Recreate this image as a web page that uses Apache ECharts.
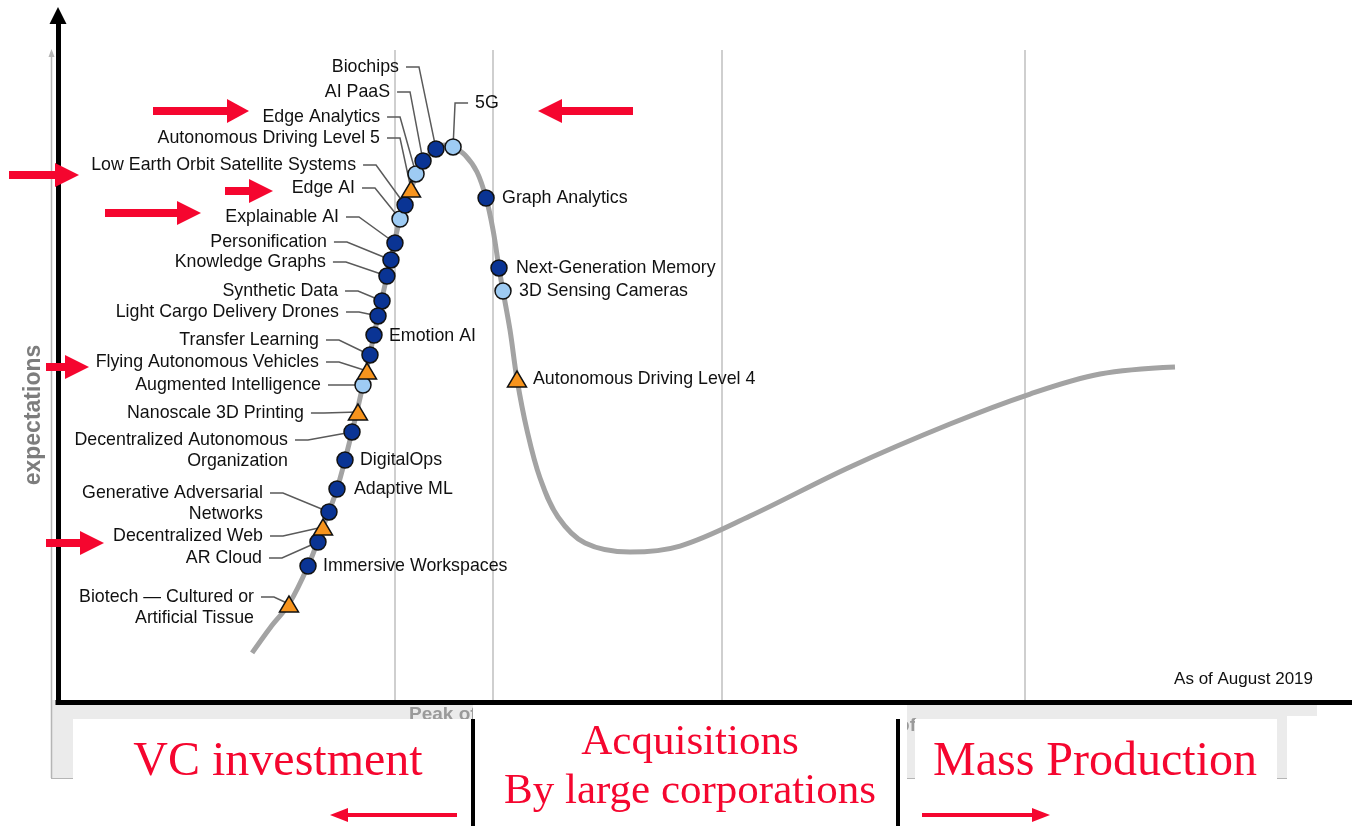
<!DOCTYPE html>
<html><head><meta charset="utf-8">
<script src="https://cdn.jsdelivr.net/npm/echarts@6/dist/echarts.min.js"></script>
<style>html,body{margin:0;padding:0;background:#fff}#c{width:1352px;height:826px}</style>
</head><body><div id="c"></div>
<script>
// ---------------- DATA ----------------
const techNames = [
  'Biochips', 'AI PaaS', 'Edge Analytics', 'Autonomous Driving Level 5',
  'Low Earth Orbit Satellite Systems', 'Edge AI', 'Explainable AI', 'Personification',
  'Knowledge Graphs', 'Synthetic Data', 'Light Cargo Delivery Drones', 'Emotion AI',
  'Transfer Learning', 'Flying Autonomous Vehicles', 'Augmented Intelligence', 'Nanoscale 3D Printing',
  'Decentralized Autonomous\nOrganization', 'DigitalOps', 'Adaptive ML', 'Generative Adversarial\nNetworks',
  'Decentralized Web', 'AR Cloud', 'Immersive Workspaces', 'Biotech \u2014 Cultured or\nArtificial Tissue',
  '5G', 'Graph Analytics', 'Next-Generation Memory', '3D Sensing Cameras', 'Autonomous Driving Level 4'
];
const techTime = [
  29.21, 28.21, 27.67, 27.28,
  26.82, 26.43, 26.04, 25.73,
  25.42, 25.04, 24.73, 24.42,
  24.11, 23.88, 23.57, 23.18,
  22.72, 22.18, 21.56, 20.94,
  20.48, 20.09, 19.32, 17.85,
  30.53, 33.08, 34.08, 34.39, 35.47
];
const techExpect = [
  81.09, 79.33, 77.42, 75.22,
  72.87, 70.82, 67.30, 64.81,
  62.46, 58.80, 56.60, 53.81,
  50.88, 48.53, 46.48, 42.52,
  39.59, 35.48, 31.23, 27.86,
  25.66, 23.46, 19.94, 14.37,
  81.38, 73.90, 63.64, 60.26, 47.36
];
// years to plateau: '2-5' (light blue), '5-10' (dark blue), '>10' (orange triangle)
const techHorizon = [
  '5-10', '5-10', '2-5', '>10',
  '5-10', '2-5', '5-10', '5-10',
  '5-10', '5-10', '5-10', '5-10',
  '5-10', '>10', '2-5', '>10',
  '5-10', '5-10', '5-10', '5-10',
  '>10', '5-10', '5-10', '>10',
  '2-5', '5-10', '5-10', '2-5', '>10'
];
const curveTime = [15.0, 16.4, 17.85, 19.32, 20.48, 21.56, 22.72, 23.57, 24.42, 25.42, 26.43, 27.28,
  28.21, 29.21, 29.91, 30.53, 31.45, 32.38, 33.08, 33.62, 34.08, 34.39, 34.93, 35.47, 36.24, 37.25,
  38.64, 40.73, 44.20, 48.07, 53.48, 61.21, 68.93, 75.12, 80.53, 86.32];
const curveExpect = [7.2, 10.9, 14.37, 19.94, 25.66, 31.23, 39.59, 46.48, 53.81, 62.46, 70.82, 75.22,
  79.33, 81.09, 81.67, 81.38, 80.21, 77.71, 73.90, 69.21, 63.64, 60.26, 54.55, 47.36, 39.88, 32.84,
  27.13, 23.31, 21.99, 22.87, 27.27, 34.46, 40.76, 45.16, 48.09, 49.12];
const phaseBoundaries = [26.04, 33.62, 51.31, 74.73];
const phaseTop = 95.6;
const yAxisTitle = 'expectations';
const asOfText = 'As of August 2019';
const phaseNames = ['Innovation\nTrigger', 'Peak of\nInflated\nExpectations', 'Slope of', 'Plateau of\nProductivity'];
const noteVC = 'VC investment';
const noteAcq = ['Acquisitions', 'By large corporations'];
const noteMass = 'Mass Production';

// ---------------- LAYOUT (positions / styles) ----------------
// [dx, dy, align, leader] pixel offset of label anchor relative to its point
const labelLayout = [
  [-37, -82, 'right', 1], [-33, -69, 'right', 1], [-36, -57, 'right', 1], [-31, -51, 'right', 1],
  [-49, -40, 'right', 1], [-45, -31, 'right', 1], [-56, -26, 'right', 1], [-64, -18, 'right', 1],
  [-61, -14, 'right', 1], [-44, -10, 'right', 1], [-39, -4, 'right', 1], [15, 1, 'left', 0],
  [-51, -15, 'right', 1], [-48, -9, 'right', 1], [-42, 0, 'right', 1], [-54, 1, 'right', 1],
  [-64, 8, 'right', 1], [15, 0, 'left', 0], [17, 0, 'left', 0], [-66, -19, 'right', 1],
  [-60, 9, 'right', 1], [-56, 16, 'right', 1], [15, 0, 'left', 0], [-35, -7, 'right', 1],
  [22, -44, 'left', 1], [16, 0, 'left', 0], [17, 0, 'left', 0], [16, 0, 'left', 0], [16, 0, 'left', 0]
];
const horizonStyle = {
  '2-5': {color: '#9ecbf3', symbol: 'circle', size: 16},
  '5-10': {color: '#0a3494', symbol: 'circle', size: 16},
  '>10': {color: '#f7941d', symbol: 'triangle', size: [19, 16]}
};
const RED = '#f5062f';
const SANS = '"Liberation Sans", Arial, sans-serif';
const SERIF = '"Liberation Serif", "Times New Roman", serif';
// [bodyStart, headStart, tip, centerY]
const redArrows = [
  [153, 227, 249, 111], [9, 55, 79, 175], [225, 249, 273, 191], [105, 177, 201, 213],
  [46, 65, 89, 367], [46, 80, 104, 543], [633, 562, 538, 111]
];

// ---------------- BUILD ----------------
function bigArrow(a) {
  const [x0, xh, tip, cy] = a;
  const bx = Math.min(x0, xh), bw = Math.abs(xh - x0);
  return [
    {type: 'rect', z: 100, shape: {x: bx, y: cy - 4, width: bw, height: 8}, style: {fill: RED}},
    {type: 'polygon', z: 100, shape: {points: [[xh, cy - 12], [tip, cy], [xh, cy + 12]]}, style: {fill: RED}}
  ];
}
function thinArrow(x0, xh, tip, cy) {
  const bx = Math.min(x0, xh), bw = Math.abs(xh - x0);
  return [
    {type: 'rect', z: 100, shape: {x: bx, y: cy - 2, width: bw, height: 4}, style: {fill: RED}},
    {type: 'polygon', z: 100, shape: {points: [[xh, cy - 7], [tip, cy], [xh, cy + 7]]}, style: {fill: RED}}
  ];
}

const graphics = [];
// backdrop band from the original figure
graphics.push({type: 'rect', z: 1, shape: {x: 51, y: 700, width: 1236, height: 78}, style: {fill: '#ebebeb'}});
graphics.push({type: 'rect', z: 1, shape: {x: 1287, y: 700, width: 30, height: 16}, style: {fill: '#ebebeb'}});
graphics.push({type: 'line', z: 1, shape: {x1: 51.5, y1: 52, x2: 51.5, y2: 778}, style: {stroke: '#b5b5b5', lineWidth: 1.5}});
graphics.push({type: 'polygon', z: 1, shape: {points: [[48.5, 57], [51.5, 49], [54.5, 57]]}, style: {fill: '#b5b5b5'}});
graphics.push({type: 'line', z: 1, shape: {x1: 51, y1: 778.5, x2: 1287, y2: 778.5}, style: {stroke: '#b5b5b5', lineWidth: 1}});
const phaseTextStyle = {fill: '#9a9a9a', fontSize: 19, fontWeight: 'bold', fontFamily: SANS, verticalAlign: 'top', lineHeight: 22};
graphics.push({type: 'text', z: 1, style: Object.assign({text: phaseNames[0], x: 170, y: 716, align: 'left'}, phaseTextStyle)});
graphics.push({type: 'text', z: 1, style: Object.assign({text: phaseNames[1], x: 409, y: 704, align: 'left'}, phaseTextStyle)});
graphics.push({type: 'text', z: 1, style: Object.assign({text: phaseNames[2], x: 916, y: 715, align: 'right'}, phaseTextStyle)});
graphics.push({type: 'text', z: 1, style: Object.assign({text: phaseNames[3], x: 1122, y: 716, align: 'left'}, phaseTextStyle)});
// white overlay boxes
graphics.push({type: 'rect', z: 2, shape: {x: 73, y: 719, width: 400, height: 107}, style: {fill: '#fff'}});
graphics.push({type: 'rect', z: 2, shape: {x: 473, y: 705, width: 434, height: 121}, style: {fill: '#fff'}});
graphics.push({type: 'rect', z: 2, shape: {x: 915, y: 719, width: 362, height: 107}, style: {fill: '#fff'}});
graphics.push({type: 'rect', z: 3, shape: {x: 471, y: 719, width: 4, height: 107}, style: {fill: '#000'}});
graphics.push({type: 'rect', z: 3, shape: {x: 896, y: 719, width: 4, height: 107}, style: {fill: '#000'}});
// red notes
graphics.push({type: 'text', z: 100, style: {text: noteVC, x: 278, y: 762, align: 'center', verticalAlign: 'middle', fill: RED, fontSize: 48, fontFamily: SERIF}});
graphics.push({type: 'text', z: 100, style: {text: noteAcq[0], x: 690, y: 743, align: 'center', verticalAlign: 'middle', fill: RED, fontSize: 43, fontFamily: SERIF}});
graphics.push({type: 'text', z: 100, style: {text: noteAcq[1], x: 690, y: 792, align: 'center', verticalAlign: 'middle', fill: RED, fontSize: 43, fontFamily: SERIF}});
graphics.push({type: 'text', z: 100, style: {text: noteMass, x: 1095, y: 762, align: 'center', verticalAlign: 'middle', fill: RED, fontSize: 48, fontFamily: SERIF}});
graphics.push(...thinArrow(457, 348, 330, 815));
graphics.push(...thinArrow(922, 1032, 1050, 815));
redArrows.forEach(a => graphics.push(...bigArrow(a)));
// y-axis arrow head
graphics.push({type: 'polygon', z: 50, shape: {points: [[49.5, 24], [58, 7], [66.5, 24]]}, style: {fill: '#000'}});
// axis title and note
graphics.push({type: 'text', z: 50, x: 34, y: 415, rotation: Math.PI / 2,
  style: {text: yAxisTitle, x: 0, y: 0, align: 'center', verticalAlign: 'middle', fill: '#7d7d7d', fontSize: 23, fontWeight: 'bold', fontFamily: SANS}});
graphics.push({type: 'text', z: 50, style: {text: asOfText, x: 1313, y: 679, align: 'right', verticalAlign: 'middle', fill: '#111', fontSize: 17, fontFamily: SANS}});

const scatterSeries = Object.keys(horizonStyle).map(h => {
  const st = horizonStyle[h];
  const data = [];
  techNames.forEach((n, i) => { if (techHorizon[i] === h) data.push([techTime[i], techExpect[i]]); });
  return {
    type: 'scatter', name: h, z: 6, symbol: st.symbol, symbolSize: st.size, data,
    itemStyle: {color: st.color, borderColor: '#111', borderWidth: 1.5, opacity: 1},
    emphasis: {disabled: true}, silent: true
  };
});

const chart = echarts.init(document.getElementById('c'), null, {renderer: 'canvas'});
chart.setOption({
  animation: false,
  backgroundColor: '#fff',
  grid: {left: 58, right: 0, top: 20, bottom: 124},
  xAxis: {type: 'value', min: 0, max: 100, z: 5,
    axisLine: {show: true, onZero: false, lineStyle: {color: '#000', width: 5, cap: 'square'}},
    axisTick: {show: false}, axisLabel: {show: false}, splitLine: {show: false}},
  yAxis: {type: 'value', min: 0, max: 100, z: 5,
    axisLine: {show: true, onZero: false, lineStyle: {color: '#000', width: 5, cap: 'square'}},
    axisTick: {show: false}, axisLabel: {show: false}, splitLine: {show: false}},
  graphic: {elements: graphics},
  series: [
    {type: 'lines', coordinateSystem: 'cartesian2d', z: 1, silent: true,
      data: phaseBoundaries.map(x => ({coords: [[x, 0], [x, phaseTop]]})),
      lineStyle: {color: '#cfcfcf', width: 2, opacity: 1}},
    {type: 'line', z: 2, smooth: 0.35, symbol: 'none', silent: true,
      data: curveTime.map((t, i) => [t, curveExpect[i]]),
      lineStyle: {color: '#a3a3a3', width: 5}},
    {type: 'custom', z: 4, silent: true,
      data: techNames.map((n, i) => [techTime[i], techExpect[i], i]),
      renderItem: function (params, api) {
        const i = api.value(2);
        const p = api.coord([api.value(0), api.value(1)]);
        const L = labelLayout[i];
        const tx = p[0] + L[0], ty = p[1] + L[1];
        const children = [];
        if (L[3]) {
          const dir = L[2] === 'right' ? 1 : -1;
          children.push({type: 'polyline', shape: {points: [[tx + dir * 7, ty], [tx + dir * 20, ty], p]},
            style: {stroke: '#5a5a5a', lineWidth: 1.5, fill: null}});
        }
        const multi = techNames[i].indexOf('\n') >= 0;
        children.push({type: 'text', style: {
          text: techNames[i], x: tx, y: multi ? ty - 10.5 : ty,
          align: L[2], verticalAlign: multi ? 'top' : 'middle', lineHeight: 21,
          fill: '#111', fontSize: 17.8, fontFamily: SANS}});
        return {type: 'group', children};
      }},
    ...scatterSeries
  ]
});
</script></body></html>
